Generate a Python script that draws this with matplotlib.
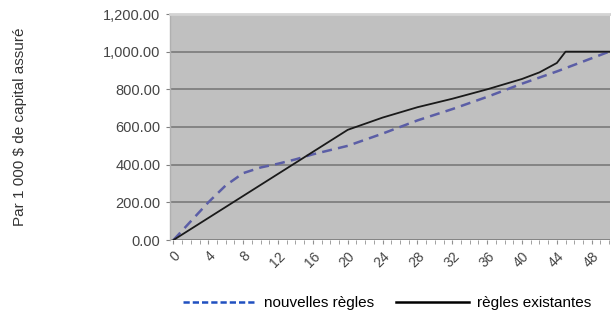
import numpy as np
import matplotlib.pyplot as plt
from matplotlib.lines import Line2D
from matplotlib.ticker import FuncFormatter, MultipleLocator

# durée (années) et valeurs par 1 000 $ de capital assuré
annees_nouv = [0, 2, 4, 6, 8, 10, 12, 14, 16, 20, 24, 28, 32, 36, 40, 44, 48, 50]
nouvelles = [0, 100, 200, 290, 355, 385, 405, 428, 455, 500, 565, 635, 695, 760, 830, 895, 965, 1000]

annees_exist = [0, 4, 8, 12, 16, 20, 24, 28, 32, 36, 40, 42, 44, 45, 50]
existantes = [0, 117, 234, 351, 468, 585, 650, 705, 750, 800, 855, 890, 940, 1000, 1000]

xticks = list(range(0, 50, 4))

plt.rcParams['font.family'] = ['Liberation Sans', 'DejaVu Sans']

fig = plt.figure(figsize=(6.11, 3.29), dpi=100)
ax = fig.add_axes([170 / 611, 1 - 240 / 329, 440 / 611, 226 / 329])

ax.set_facecolor('#c0c0c0')
ax.plot(annees_nouv, nouvelles, color='#5b5ea6', lw=1.8, ls=(0, (4, 2.5)), zorder=3)
ax.plot(annees_exist, existantes, color='#1a1a1a', lw=1.3, zorder=4)

ax.set_xlim(-0.4, 50.1)
ax.set_ylim(0, 1200)
ax.set_yticks(np.arange(0, 1201, 200))
ax.yaxis.set_major_formatter(FuncFormatter(lambda v, p: f'{v:,.2f}'))
ax.set_xticks(xticks)
ax.xaxis.set_minor_locator(MultipleLocator(1))
ax.grid(axis='y', color='#7a7a7a', lw=1.2)
ax.set_axisbelow(True)

for s in ax.spines.values():
    s.set_visible(False)
# bord supérieur clair de la zone de tracé
ax.spines['top'].set_visible(True)
ax.spines['top'].set_color('#d4d4d4')
ax.spines['top'].set_linewidth(2)
ax.spines['left'].set_visible(True)
ax.spines['left'].set_color('#b0b0b0')
ax.spines['left'].set_linewidth(1)

ax.tick_params(axis='y', length=3, color='#808080', labelsize=10.5, labelcolor='#454545', pad=4)
ax.tick_params(axis='x', which='both', length=3, color='#909090', labelsize=10, labelcolor='#454545')
for lab in ax.get_xticklabels():
    lab.set_rotation(45)
    lab.set_ha('right')
    lab.set_va('top')
    lab.set_rotation_mode('anchor')

fig.text(20 / 611, 1 - 127 / 329, 'Par 1 000 $ de capital assuré', rotation=90,
         ha='center', va='center', fontsize=11, color='#333333')

handles = [Line2D([], [], color='#2050c0', lw=1.8, ls=(0, (2.5, 1.2))),
           Line2D([], [], color='black', lw=1.8)]
fig.legend(handles, ['nouvelles règles', 'règles existantes'], loc='center',
           bbox_to_anchor=(387 / 611, 1 - 303 / 329), ncol=2, frameon=False,
           handlelength=4.8, handletextpad=0.5, columnspacing=1.4,
           prop={'size': 11})

plt.savefig('out.png', dpi=100)
